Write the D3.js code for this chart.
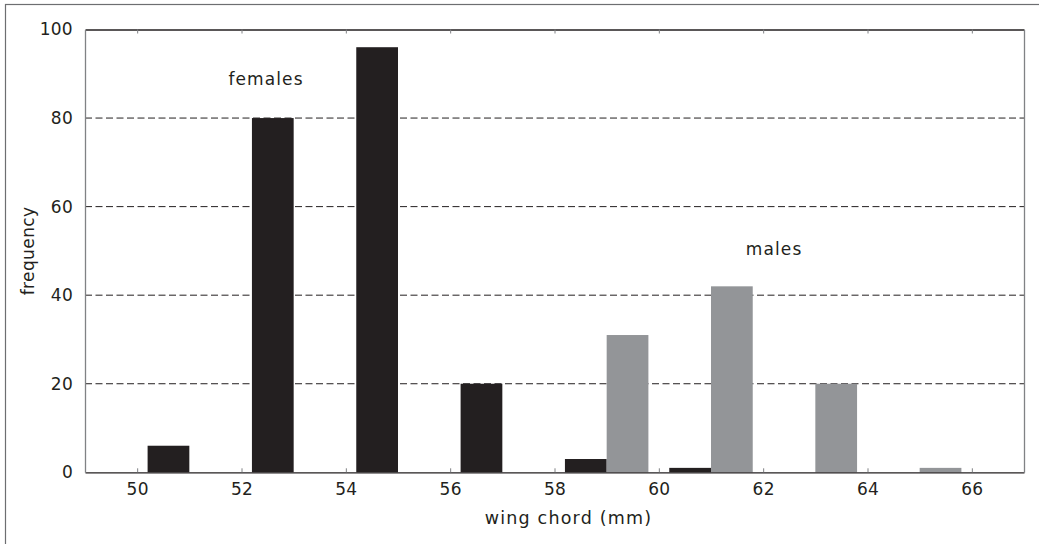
<!DOCTYPE html>
<html>
<head>
<meta charset="utf-8">
<script src="https://cdn.jsdelivr.net/npm/d3@7/dist/d3.min.js"></script>
<style>
  html, body { margin: 0; padding: 0; background: #fff; }
  svg { display: block; }
  text { font-family: "DejaVu Sans", Verdana, sans-serif; fill: #231f20; }
</style>
</head>
<body>
<svg id="chart" width="1039" height="544"></svg>
<script>
// ---- data ----
const binCenters = [51, 53, 55, 57, 59, 61, 63, 65];
const females = [6, 80, 96, 20, 3, 1, 0, 0];
const males = [0, 0, 0, 0, 31, 42, 20, 1];
const xTicks = [50, 52, 54, 56, 58, 60, 62, 64, 66];
const yTicks = [0, 20, 40, 60, 80, 100];
const gridValues = [20, 40, 60, 80];
const labelText = { x: "wing chord (mm)", y: "frequency" };
const annotations = [
  { text: "females", x: 52.47, y: 87.4 },
  { text: "males", x: 62.21, y: 49.1 }
];

// ---- layout ----
const W = 1039, H = 544;
const plot = { left: 85, right: 1024, top: 29.5, bottom: 472.3 };
const barWidth = 0.8; // in data units
const colors = { females: "#231f20", males: "#939598" };
const FONT = '"DejaVu Sans", Verdana, sans-serif';

const svg = d3.select("#chart");

const x = d3.scaleLinear().domain([49, 67]).range([plot.left, plot.right]);
const y = d3.scaleLinear().domain([0, 100]).range([plot.bottom, plot.top]);

// outer frame
svg.append("rect")
  .attr("x", 5.5).attr("y", 4.5)
  .attr("width", W + 20).attr("height", H + 20)
  .attr("fill", "none").attr("stroke", "#6d6e71").attr("stroke-width", 1.2);

// gridlines
svg.append("g").selectAll("line").data(gridValues).join("line")
  .attr("x1", plot.left).attr("x2", plot.right)
  .attr("y1", d => y(d)).attr("y2", d => y(d))
  .attr("stroke", "#231f20").attr("stroke-width", 1)
  .attr("stroke-dasharray", "7,3.5");

// bars
const rows = binCenters.map((c, i) => ({ c, females: females[i], males: males[i] }));
const barG = svg.append("g");
barG.selectAll("rect.f").data(rows.filter(d => d.females > 0)).join("rect")
  .attr("class", "f")
  .attr("x", d => x(d.c - barWidth))
  .attr("width", d => x(d.c) - x(d.c - barWidth))
  .attr("y", d => y(d.females))
  .attr("height", d => y(0) - y(d.females))
  .attr("fill", colors.females);
barG.selectAll("rect.m").data(rows.filter(d => d.males > 0)).join("rect")
  .attr("class", "m")
  .attr("x", d => x(d.c))
  .attr("width", d => x(d.c + barWidth) - x(d.c))
  .attr("y", d => y(d.males))
  .attr("height", d => y(0) - y(d.males))
  .attr("fill", colors.males);

// axes (ticks inward)
const xAxisBottom = d3.axisBottom(x).tickValues(xTicks).tickSizeInner(-4).tickSizeOuter(0).tickPadding(11);
const gxb = svg.append("g").attr("transform", `translate(0,${plot.bottom})`).call(xAxisBottom);
gxb.select(".domain").attr("stroke", "#231f20").attr("stroke-width", 1.3);
gxb.selectAll(".tick line").attr("stroke", "#808285");
gxb.selectAll(".tick text").attr("font-size", 17).attr("fill", "#231f20")
  .style("font-family", FONT).style("letter-spacing", "0.3px");

const xAxisTop = d3.axisTop(x).tickValues(xTicks).tickSizeInner(-4).tickSizeOuter(0).tickFormat("");
const gxt = svg.append("g").attr("transform", `translate(0,${plot.top})`).call(xAxisTop);
gxt.select(".domain").attr("stroke", "#231f20").attr("stroke-width", 1.3);
gxt.selectAll(".tick line").attr("stroke", "#808285");

const yAxisLeft = d3.axisLeft(y).tickValues(yTicks).tickSizeInner(0).tickSizeOuter(0).tickPadding(12);
const gyl = svg.append("g").attr("transform", `translate(${plot.left},0)`).call(yAxisLeft);
gyl.select(".domain").attr("stroke", "#808285").attr("stroke-width", 1.3);
gyl.selectAll(".tick text").attr("font-size", 17).attr("fill", "#231f20")
  .style("font-family", FONT).style("letter-spacing", "0.3px");

const yAxisRight = d3.axisRight(y).tickValues(yTicks).tickSizeInner(0).tickSizeOuter(0).tickFormat("");
const gyr = svg.append("g").attr("transform", `translate(${plot.right},0)`).call(yAxisRight);
gyr.select(".domain").attr("stroke", "#808285").attr("stroke-width", 1.3);

// axis labels
svg.append("text")
  .attr("x", (plot.left + plot.right) / 2 + 14)
  .attr("y", 523.5)
  .attr("text-anchor", "middle")
  .attr("font-size", 17.5)
  .style("letter-spacing", "1.2px")
  .text(labelText.x);

svg.append("text")
  .attr("transform", `translate(34,${(plot.top + plot.bottom) / 2}) rotate(-90)`)
  .attr("text-anchor", "middle")
  .attr("font-size", 17)
  .style("letter-spacing", "0.4px")
  .text(labelText.y);

// annotations
svg.append("g").selectAll("text").data(annotations).join("text")
  .attr("x", d => x(d.x))
  .attr("y", d => y(d.y))
  .attr("text-anchor", "middle")
  .attr("font-size", 17)
  .style("letter-spacing", "1.1px")
  .text(d => d.text);
</script>
</body>
</html>
